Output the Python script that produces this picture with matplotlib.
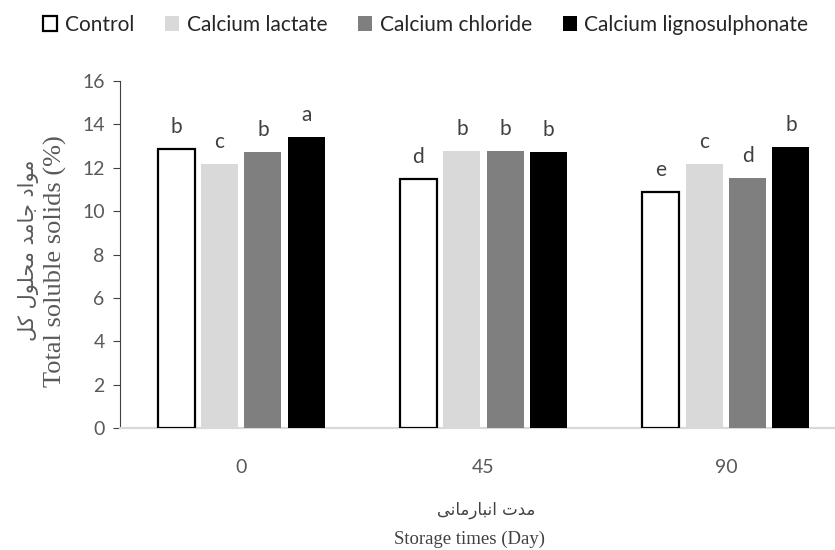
import matplotlib
matplotlib.use("Agg")
import matplotlib.pyplot as plt
import numpy as np
from matplotlib.patches import Patch

# ---- data ----
days = ["0", "45", "90"]
treatments = ["Control", "Calcium lactate", "Calcium chloride", "Calcium lignosulphonate"]
control = [12.85, 11.5, 10.9]
lactate = [12.17, 12.77, 12.17]
chloride = [12.71, 12.77, 11.51]
ligno = [13.42, 12.71, 12.94]
letters_control = ["b", "d", "e"]
letters_lactate = ["c", "b", "c"]
letters_chloride = ["b", "b", "d"]
letters_ligno = ["a", "b", "b"]
yticks = [0, 2, 4, 6, 8, 10, 12, 14, 16]

# Persian labels in Arabic presentation forms (logical order), reversed for LTR rendering
fa_ylabel_logical = ("\uFEE3\uFEEE\uFE8D\uFEA9" + " " + "\uFE9F\uFE8E\uFEE3\uFEAA" + " "
                     + "\uFEE3\uFEA4\uFEE0\uFEEE\uFEDD" + " " + "\uFB90\uFEDE")
fa_xlabel_logical = ("\uFEE3\uFEAA\uFE95" + " " +
                     "\uFE8D\uFEE7\uFE92\uFE8E\uFEAD\uFEE3\uFE8E\uFEE7\uFBFD")
fa_ylabel = fa_ylabel_logical[::-1]
fa_xlabel = fa_xlabel_logical[::-1]

series = [control, lactate, chloride, ligno]
letters = [letters_control, letters_lactate, letters_chloride, letters_ligno]
faces = ["white", "#d9d9d9", "#7f7f7f", "black"]
edges = ["black", "#d9d9d9", "#7f7f7f", "black"]
lws = [1.6, 0, 0, 0]

fig = plt.figure(figsize=(8.35, 5.5), dpi=100)
ax = fig.add_axes([0.1437, 0.2218, 0.8707, 0.6309])

x = np.arange(len(days)) + 0.5
width = 0.153
step = 0.179
offsets = (np.arange(4) - 1.5) * step
tick_font = "Lato"
for i, (vals, lets) in enumerate(zip(series, letters)):
    ax.bar(x + offsets[i], vals, width=width, color=faces[i], edgecolor=edges[i],
           linewidth=lws[i], zorder=3)
    for xi, v, l in zip(x + offsets[i], vals, lets):
        ax.text(xi, v + 0.55, l, ha="center", va="bottom", fontsize=15,
                color="#404040", family=tick_font)

ax.set_xlim(0, 3)
ax.set_ylim(0, 16)
ax.set_yticks(yticks)
ax.set_xticks(x)
ax.set_xticklabels(days)
for s in ["top", "right"]:
    ax.spines[s].set_visible(False)
ax.spines["left"].set_color("#404040")
ax.spines["left"].set_linewidth(0.8)
ax.spines["bottom"].set_color("#d9d9d9")
ax.spines["bottom"].set_linewidth(1.6)
ax.tick_params(axis="y", direction="out", length=5, color="#404040", labelsize=14,
               labelcolor="#595959", pad=6)
ax.tick_params(axis="x", length=0, labelsize=14, labelcolor="#595959", pad=22)
for lab in ax.get_xticklabels() + ax.get_yticklabels():
    lab.set_family(tick_font)

# y label: two lines
fig.text(0.034, 0.545, fa_ylabel, rotation=90, ha="center", va="center",
         fontsize=15, color="#595959", family=["DejaVu Sans"])
fig.text(0.066, 0.525, "Total soluble solids (%)", rotation=90, ha="center", va="center",
         fontsize=19, color="#595959", family="Liberation Serif")

# x label: two lines
fig.text(0.582, 0.073, fa_xlabel, ha="center", va="center", fontsize=12,
         color="#404040", family=["DejaVu Sans"])
fig.text(0.562, 0.020, "Storage times (Day)", ha="center", va="center", fontsize=13.5,
         color="#404040", family="Liberation Serif")

handles = [Patch(facecolor=faces[i], edgecolor=edges[i], linewidth=1.6 if i == 0 else 0)
           for i in range(4)]
leg = fig.legend(handles, treatments, loc="center", bbox_to_anchor=(0.51, 0.955), ncol=4,
                 frameon=False, handlelength=0.67, handleheight=0.8, handletextpad=0.35,
                 columnspacing=1.5, prop={"family": "Lato", "size": 15})
for t in leg.get_texts():
    t.set_color("#262626")

fig.savefig("out.png", dpi=100)
